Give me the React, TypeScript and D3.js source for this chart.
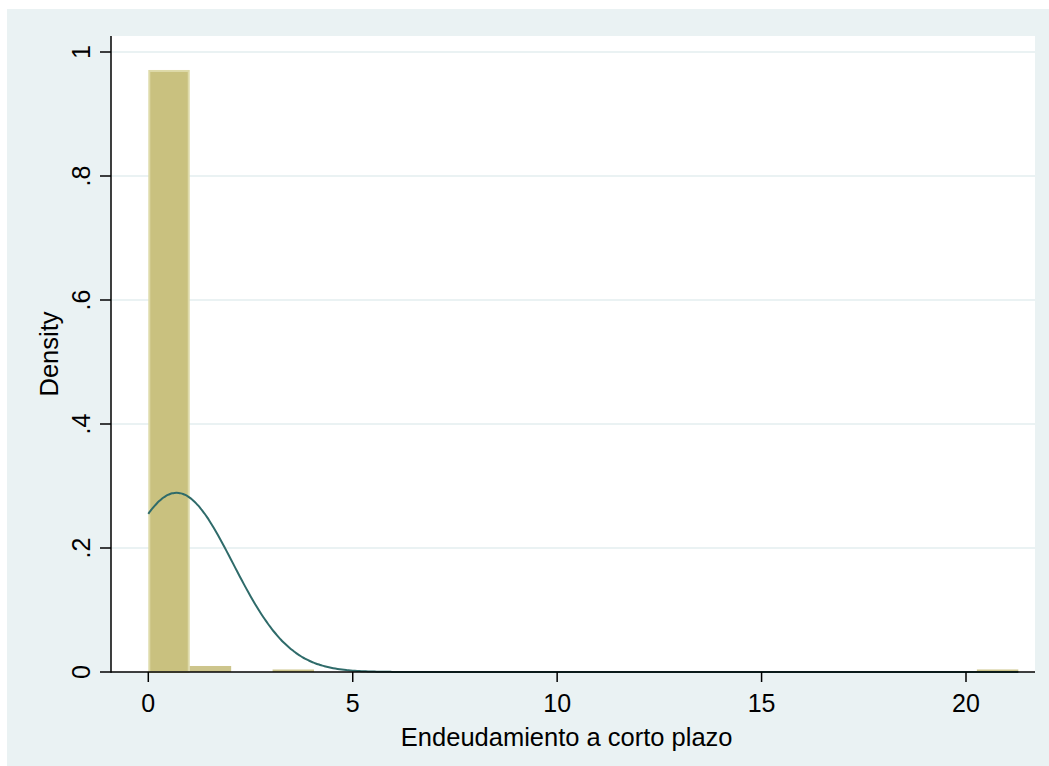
import React from "react";
import * as d3 from "d3";

const width = 1049;
const height = 766;
const plot = { left: 111, right: 1035, top: 36, bottom: 672 };

// histogram (density) of Endeudamiento a corto plazo
const binStart = 0;
const binWidth = 1.0133;
const binDensity = [
  0.971, 0.0097, 0, 0.003, 0, 0, 0, 0, 0, 0, 0, 0, 0, 0, 0, 0, 0, 0, 0, 0, 0.003,
];
// normal overlay
const normMean = 0.69;
const normSd = 1.38;
const dataMax = 21.28;

const xTicks = [0, 5, 10, 15, 20];
const yTicks = [0, 0.2, 0.4, 0.6, 0.8, 1];
const yTickLabels = ["0", ".2", ".4", ".6", ".8", "1"];
const xTitle = "Endeudamiento a corto plazo";
const yTitle = "Density";

const font = "'Liberation Sans', Arial, Helvetica, sans-serif";

export default function App() {
  const x = d3.scaleLinear().domain([0, 20]).range([148.3, 966]);
  const y = d3.scaleLinear().domain([0, 1]).range([672, 52]);

  const curvePts = d3.range(0, 401).map((i) => {
    const v = (dataMax * i) / 400;
    const d =
      Math.exp(-((v - normMean) ** 2) / (2 * normSd * normSd)) /
      (normSd * Math.sqrt(2 * Math.PI));
    return [v, d] as [number, number];
  });
  const line = d3
    .line<[number, number]>()
    .x((d) => x(d[0]))
    .y((d) => y(d[1]))
    .curve(d3.curveBasis);

  const bw = x(binWidth) - x(0);

  return (
    <svg
      width={width}
      height={height}
      style={{ position: "absolute", left: 0, top: 0, background: "#fff" }}
    >
      <rect x={7} y={9} width={width - 7} height={height - 9} fill="#eaf2f3" />
      <rect
        x={plot.left}
        y={plot.top}
        width={plot.right - plot.left}
        height={plot.bottom - plot.top}
        fill="#ffffff"
      />
      {/* grid */}
      {yTicks.slice(1).map((t) => (
        <line
          key={"g" + t}
          x1={plot.left}
          x2={plot.right}
          y1={y(t)}
          y2={y(t)}
          stroke="#eaf2f3"
          strokeWidth={2}
        />
      ))}
      {/* bars */}
      {binDensity.map((d, i) => {
        if (d <= 0) return null;
        const x0 = x(binStart + i * binWidth);
        const h = y(0) - y(d);
        if (h < 8) {
          return (
            <rect
              key={"b" + i}
              x={x0}
              y={y(0) - Math.max(h, 2.5)}
              width={bw}
              height={Math.max(h, 2.5)}
              fill="#cdc58c"
            />
          );
        }
        return (
          <rect
            key={"b" + i}
            x={x0 + 1}
            y={y(d) + 1}
            width={bw - 2}
            height={h - 1}
            fill="#c9c17f"
            stroke="#dedaa9"
            strokeWidth={2}
          />
        );
      })}
      {/* density curve */}
      <path d={line(curvePts) || ""} fill="none" stroke="#2f6b6a" strokeWidth={2} />
      {/* axes */}
      <line x1={plot.left} x2={plot.left} y1={plot.top} y2={plot.bottom + 0.75} stroke="#000" strokeWidth={1.5} />
      <line x1={plot.left} x2={plot.right} y1={plot.bottom} y2={plot.bottom} stroke="#000" strokeWidth={1.5} />
      {yTicks.map((t, i) => (
        <g key={"yt" + t}>
          <line x1={100} x2={plot.left} y1={y(t)} y2={y(t)} stroke="#000" strokeWidth={1.5} />
          <text
            transform={`translate(89.5,${y(t)}) rotate(-90)`}
            textAnchor="middle"
            fontFamily={font}
            fontSize={25}
            fill="#000"
          >
            {yTickLabels[i]}
          </text>
        </g>
      ))}
      {xTicks.map((t) => (
        <g key={"xt" + t}>
          <line x1={x(t)} x2={x(t)} y1={plot.bottom} y2={682} stroke="#000" strokeWidth={1.5} />
          <text
            x={x(t)}
            y={711.5}
            textAnchor="middle"
            fontFamily={font}
            fontSize={25}
            fill="#000"
          >
            {t}
          </text>
        </g>
      ))}
      <text
        x={566.7}
        y={746}
        textAnchor="middle"
        fontFamily={font}
        fontSize={25.5}
        fill="#000"
      >
        {xTitle}
      </text>
      <text
        transform={`translate(58.3,354) rotate(-90)`}
        textAnchor="middle"
        fontFamily={font}
        fontSize={25.5}
        fill="#000"
      >
        {yTitle}
      </text>
    </svg>
  );
}
